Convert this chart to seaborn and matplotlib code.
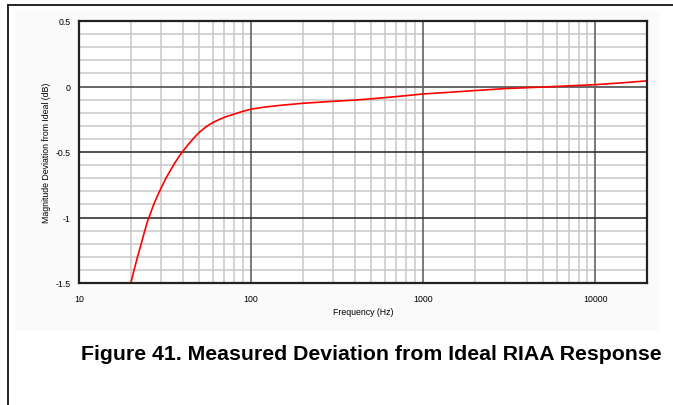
import matplotlib
matplotlib.use("Agg")
import matplotlib.pyplot as plt
import seaborn as sns
import pandas as pd
from matplotlib.patches import Rectangle
from matplotlib.lines import Line2D

freq_hz = [20, 21, 22, 23, 24, 25, 26, 27, 28, 30, 32, 34, 36, 38, 40, 43, 46, 50,
           55, 60, 65, 70, 80, 90, 100, 120, 150, 200, 250, 300, 400, 500, 700,
           1000, 1500, 2000, 3000, 5000, 7000, 10000, 15000, 20000]
deviation_db = [-1.50, -1.39, -1.29, -1.20, -1.11, -1.03, -0.97, -0.91, -0.86, -0.775,
                -0.70, -0.64, -0.585, -0.537, -0.497, -0.445, -0.40, -0.35,
                -0.305, -0.275, -0.253, -0.235, -0.21, -0.189, -0.173, -0.157, -0.143,
                -0.128, -0.12, -0.113, -0.104, -0.094, -0.077,
                -0.057, -0.042, -0.031, -0.016, -0.004, 0.005, 0.014, 0.03, 0.043]
x_ticks = [10, 100, 1000, 10000]
x_tick_labels = ["10", "100", "1000", "10000"]
y_ticks = [0.5, 0, -0.5, -1, -1.5]
y_tick_labels = ["0.5", "0", "-0.5", "-1", "-1.5"]

sns.set_theme(style="white")
plt.rcParams['font.family'] = ['Liberation Sans', 'DejaVu Sans']
plt.rcParams['text.color'] = 'black'
plt.rcParams['axes.labelcolor'] = 'black'

df = pd.DataFrame({"Frequency": freq_hz, "Deviation": deviation_db})

fig = plt.figure(figsize=(6.73, 4.06), dpi=100)
fig.patch.set_facecolor("white")

# faint background panel and frame lines
fig.patches.append(Rectangle((16/673, 1-332/406), (660-16)/673, (332-12)/406,
                             transform=fig.transFigure, facecolor="#fafafa",
                             edgecolor="none", zorder=-10))
fig.lines.append(Line2D([8/673, 8/673], [0, 1-6/406], transform=fig.transFigure,
                        color="black", lw=1.2))
fig.lines.append(Line2D([8/673, 1], [1-6/406, 1-6/406], transform=fig.transFigure,
                        color="black", lw=1.2))

ax = fig.add_axes([79/673, 1-284/406, 568/673, 262/406])
ax.set_facecolor("white")
ax.set_xscale("log")
ax.set_xlim(10, 20000)
ax.set_ylim(-1.5, 0.5)

# grid
minor_x = [m * 10**d for d in range(1, 5) for m in range(2, 10) if m * 10**d < 20000]
for xv in minor_x:
    ax.axvline(xv, color="#c8c8c8", lw=1.1, zorder=1)
for xv in [100, 1000, 10000]:
    ax.axvline(xv, color="#555555", lw=1.1, zorder=2)
for i in range(-15, 6):
    yv = i / 10
    if i % 5 != 0:
        ax.axhline(yv, color="#c8c8c8", lw=1.1, zorder=1)
ax.axhline(0, color="#666666", lw=1.4, zorder=2)
for yv in [-0.5, -1.0]:
    ax.axhline(yv, color="#222222", lw=1.1, zorder=2)

sns.lineplot(data=df, x="Frequency", y="Deviation", ax=ax, color="#ff0000",
             lw=1.2, zorder=5)

ax.set_xticks(x_ticks)
ax.set_xticklabels(x_tick_labels)
ax.set_yticks(y_ticks)
ax.set_yticklabels(y_tick_labels)
ax.minorticks_off()
ax.tick_params(axis="both", length=0, labelsize=6.3, colors="black")
ax.tick_params(axis="x", pad=8)
ax.tick_params(axis="y", pad=6)
ax.set_xlabel("Frequency (Hz)", fontsize=6.3, labelpad=3)
ax.set_ylabel("Magnitude Deviation from Ideal (dB)", fontsize=6.3, labelpad=3)
for s in ax.spines.values():
    s.set_color("#222222")
    s.set_linewidth(1.6)
    s.set_zorder(6)

fig.text(371.5/673, 1-354/406, "Figure 41. Measured Deviation from Ideal RIAA Response",
         ha="center", va="center", fontsize=15.3, fontweight="bold", color="black")

fig.savefig("out.png", dpi=100)
